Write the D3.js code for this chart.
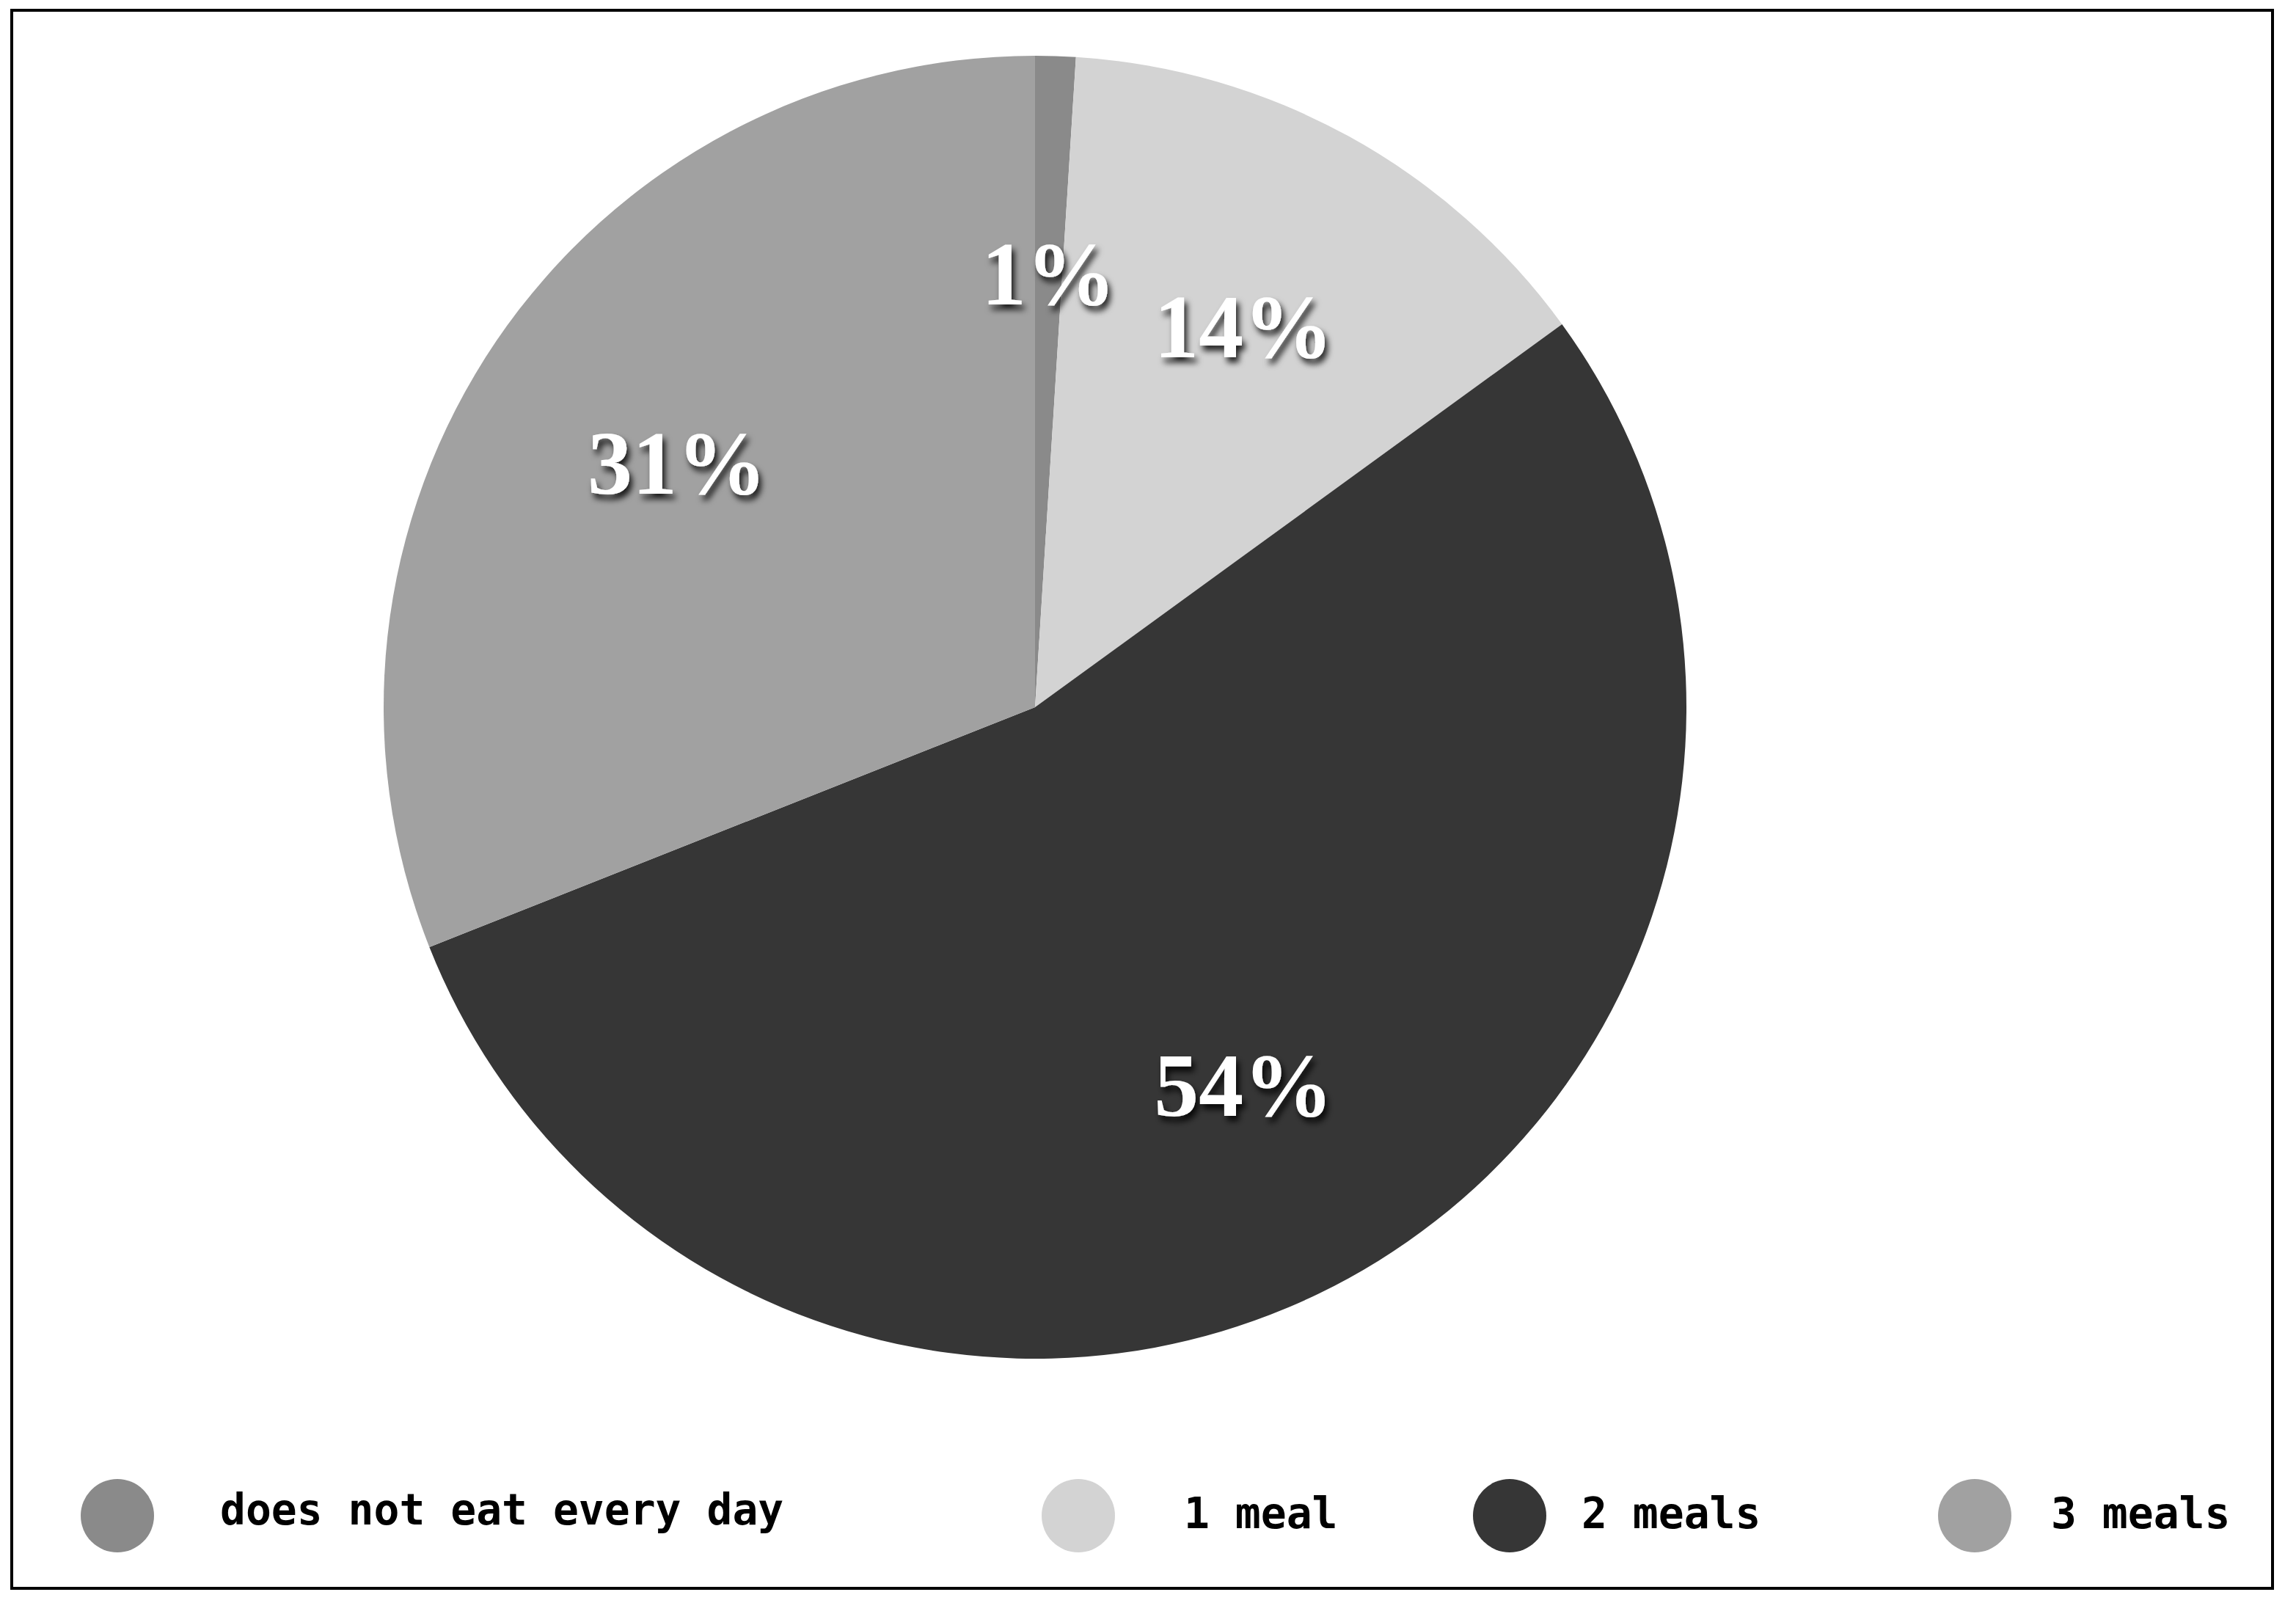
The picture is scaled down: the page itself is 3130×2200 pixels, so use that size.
<html>
<head>
<meta charset="utf-8">
<script src="https://d3js.org/d3.v7.min.js"></script>
<style>
body {
    margin: 0;
    background: #ffffff;
}

.slice-label {
    fill: #ffffff;
    font-family: "Liberation Serif", serif;
    font-weight: bold;
    font-size: 122px;
    text-anchor: middle;
}

.legend text {
    fill: #000000;
    font-family: "DejaVu Sans Mono", monospace;
    font-weight: bold;
    font-size: 58px;
}
</style>
</head>
<body>

<script type="text/javascript">

// chart data
var categories = ["does not eat every day", "1 meal", "2 meals", "3 meals"];
var shares = [1, 14, 54, 31];
var colors = ["#8a8a8a", "#d3d3d3", "#363636", "#a1a1a1"];

// display values
var width = 3130;
var height = 2200;
var center = {x: 1411, y: 964};
var radius = 888;
var labelRadius = 590;

// legend layout: circle centre x and text start x for each entry
var legendCircleX = [160, 1470, 2058, 2692];
var legendTextX = [300, 1614, 2156, 2796];
var legendY = 2066;
var legendR = 50;

var svg = d3.select("body").append("svg")
    .attr("width", width)
    .attr("height", height);

// drop shadow for the percent labels
var filter = svg.append("defs").append("filter")
    .attr("id", "shadow")
    .attr("x", "-20%").attr("y", "-20%")
    .attr("width", "150%").attr("height", "160%");
filter.append("feDropShadow")
    .attr("dx", 4)
    .attr("dy", 7)
    .attr("stdDeviation", 4.5)
    .attr("flood-color", "#000000")
    .attr("flood-opacity", 0.85);

// frame
svg.append("rect")
    .attr("x", 16)
    .attr("y", 14)
    .attr("width", 3082)
    .attr("height", 2151)
    .attr("fill", "none")
    .attr("stroke", "#000000")
    .attr("stroke-width", 4);

var color = d3.scaleOrdinal()
    .domain(categories)
    .range(colors);

var data = categories.map(function(c, i) { return {name: c, value: shares[i]}; });

var pie = d3.pie()
    .sort(null)
    .value(function(d) { return d.value; });

var arc = d3.arc()
    .innerRadius(0)
    .outerRadius(radius);

var labelArc = d3.arc()
    .innerRadius(labelRadius)
    .outerRadius(labelRadius);

var chart = svg.append("g")
    .attr("transform", "translate(" + center.x + "," + center.y + ")");

var arcs = pie(data);

chart.selectAll("path")
    .data(arcs)
  .enter().append("path")
    .attr("d", arc)
    .attr("fill", function(d) { return color(d.data.name); });

chart.selectAll("text")
    .data(arcs)
  .enter().append("text")
    .attr("class", "slice-label")
    .attr("transform", function(d) { return "translate(" + labelArc.centroid(d) + ")"; })
    .attr("dy", "0.33em")
    .attr("filter", "url(#shadow)")
    .text(function(d) { return d.data.value + "%"; });

// legend
var legend = svg.append("g").attr("class", "legend");

var item = legend.selectAll("g")
    .data(categories)
  .enter().append("g");

item.append("circle")
    .attr("cx", function(d, i) { return legendCircleX[i]; })
    .attr("cy", legendY)
    .attr("r", legendR)
    .attr("fill", function(d) { return color(d); });

item.append("text")
    .attr("x", function(d, i) { return legendTextX[i]; })
    .attr("y", function(d, i) { return i == 0 ? legendY + 12 : legendY + 17; })
    .text(function(d) { return d; });

</script>

</body>
</html>
